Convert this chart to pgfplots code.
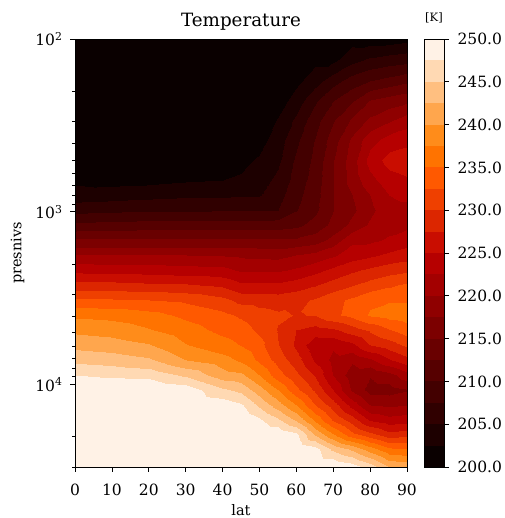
\documentclass[border=0pt]{standalone}
\usepackage{fontspec}
\setmainfont{DejaVu Serif}
\usepackage{pgfplots}
\usepackage{pgfplotstable}
\pgfplotsset{compat=1.18}
\pgfplotsset{
  colormap={gh}{rgb255=(10,0,0) rgb255=(29,0,0) rgb255=(48,0,0) rgb255=(67,0,0) rgb255=(86,0,0)
    rgb255=(105,0,0) rgb255=(124,0,0) rgb255=(143,0,0) rgb255=(163,0,0) rgb255=(182,0,0)
    rgb255=(201,13,0) rgb255=(220,38,0) rgb255=(239,64,0) rgb255=(255,89,0) rgb255=(255,115,0)
    rgb255=(255,140,26) rgb255=(255,166,77) rgb255=(255,191,128) rgb255=(255,217,179) rgb255=(255,242,230)}
}
\pgfplotstableread{
lo hi r g b
200 202.5 10 0 0
202.5 205 29 0 0
205 207.5 48 0 0
207.5 210 67 0 0
210 212.5 86 0 0
212.5 215 105 0 0
215 217.5 124 0 0
217.5 220 143 0 0
220 222.5 163 0 0
222.5 225 182 0 0
225 227.5 201 13 0
227.5 230 220 38 0
230 232.5 239 64 0
232.5 235 255 89 0
235 237.5 255 115 0
237.5 240 255 140 26
240 242.5 255 166 77
242.5 245 255 191 128
245 247.5 255 217 179
247.5 250 255 242 230
}\bandtable
\begin{document}
\begin{tikzpicture}[x=1pt,y=1pt]
\path[use as bounding box] (0,0) rectangle (504,518);
\begin{axis}[
  at={(75pt,51pt)}, anchor=south west, scale only axis, width=332pt, height=428pt,
  xmin=0, xmax=90, ymin=100, ymax=30000, ymode=log, y dir=reverse,
  xtick={0,10,20,30,40,50,60,70,80,90},
  ytick={100,1000,10000},
  yticklabels={10\textsuperscript{2},10\textsuperscript{3},10\textsuperscript{4}},
  minor ytick={200,300,400,500,600,700,800,900,2000,3000,4000,5000,6000,7000,8000,9000,20000,30000},
  tick align=outside, major tick length=5pt, minor tick length=3pt,
  xtick pos=bottom, ytick pos=left,
  tick style={black, line width=0.7pt},
  minor tick style={black, line width=0.5pt},
  axis line style={line width=0.8pt},
  tick label style={font=\fontsize{15.5}{17}\selectfont},
  xticklabel style={yshift=-8pt},
  yticklabel style={xshift=-4pt},
  /pgf/number format/assume math mode=true,
  xlabel={lat}, ylabel={presnivs},
  label style={font=\fontsize{14.5}{16}\selectfont},
  xlabel style={at={(0.5,0)}, anchor=north, yshift=-34pt},
  ylabel style={at={(0,0.5)}, anchor=south, yshift=47pt},
  title={Temperature}, title style={font=\fontsize{18.3}{20}\selectfont, yshift=-1pt},
  colormap name=gh, point meta min=200, point meta max=250,
  axis on top,
]
\addplot[contour filled={number=20}, mesh/rows=27, mesh/cols=15, mesh/ordering=y varies, point meta=explicit]
 table[x=lat,y=p,meta=T] {
lat p T
0 100 200
0 132.2 200
0 172.6 200
0 225.2 200
0 293.9 200
0 383.6 200.5
0 500.6 201
0 653.1 202
0 797.2 203.5
0 973.6 206.6
0 1188.8 210.6
0 1451 215.3
0 1772 220
0 2164 224.2
0 2642 228.4
0 3226 233.1
0 3938 237
0 4810 239.4
0 5872 241.7
0 7170 244.3
0 8754 247.5
0 10688 250
0 13050 250
0 15930 250
0 19450 250
0 23750 250
0 30000 250
10 100 200
10 132.2 200
10 172.6 200
10 225.2 200
10 293.9 200
10 383.6 200.5
10 500.6 201
10 653.1 201.6
10 797.2 203.8
10 973.6 206.9
10 1188.8 211
10 1451 215.3
10 1772 220
10 2164 224
10 2642 228.4
10 3226 232.8
10 3938 236.7
10 4810 238.9
10 5872 241.2
10 7170 243.8
10 8754 247
10 10688 250
10 13050 250
10 15930 250
10 19450 250
10 23750 250
10 30000 250
20 100 200
20 132.2 200
20 172.6 200
20 225.2 200
20 293.9 200
20 383.6 200.5
20 500.6 201
20 653.1 201.7
20 797.2 204.2
20 973.6 207.1
20 1188.8 211.1
20 1451 215.3
20 1772 220
20 2164 223.8
20 2642 228
20 3226 232.5
20 3938 235.9
20 4810 237.7
20 5872 240.2
20 7170 242.9
20 8754 246.7
20 10688 250
20 13050 250
20 15930 250
20 19450 250
20 23750 250
20 30000 250
30 100 200
30 132.2 200
30 172.6 200
30 225.2 200
30 293.9 200
30 383.6 200.5
30 500.6 201.2
30 653.1 202.2
30 797.2 204.5
30 973.6 207.1
30 1188.8 211.1
30 1451 215.3
30 1772 220
30 2164 223.5
30 2642 227.8
30 3226 232
30 3938 234.4
30 4810 236.1
30 5872 237.6
30 7170 240
30 8754 244.5
30 10688 249
30 13050 250
30 15930 250
30 19450 250
30 23750 250
30 30000 250
40 100 200
40 132.2 200
40 172.6 200
40 225.2 200
40 293.9 200
40 383.6 200.5
40 500.6 201.5
40 653.1 202.5
40 797.2 204.6
40 973.6 207.3
40 1188.8 211.1
40 1451 215.3
40 1772 219.8
40 2164 223.2
40 2642 227
40 3226 230.7
40 3938 233.1
40 4810 234.3
40 5872 236
40 7170 238.5
40 8754 241
40 10688 245.5
40 13050 249
40 15930 250
40 19450 250
40 23750 250
40 30000 250
45 100 200
45 132.2 200
45 172.6 200
45 225.2 200
45 293.9 200
45 383.6 201
45 500.6 201.9
45 653.1 202.8
45 797.2 204.7
45 973.6 207.3
45 1188.8 211.1
45 1451 215.3
45 1772 219.5
45 2164 222.1
45 2642 225.5
45 3226 229.2
45 3938 232.1
45 4810 233.6
45 5872 234.9
45 7170 237
45 8754 240.6
45 10688 244.3
45 13050 247.9
45 15930 250
45 19450 250
45 23750 250
45 30000 250
50 100 200
50 132.2 200
50 172.6 200
50 225.2 200
50 293.9 200.5
50 383.6 201.5
50 500.6 202.8
50 653.1 203.9
50 797.2 204.8
50 973.6 207.3
50 1188.8 211.1
50 1451 215.3
50 1772 219.4
50 2164 222.1
50 2642 225.5
50 3226 229
50 3938 231
50 4810 232
50 5872 233.4
50 7170 234.5
50 8754 237.5
50 10688 241.2
50 13050 244.5
50 15930 248
50 19450 250
50 23750 250
50 30000 250
55 100 200
55 132.2 200
55 172.6 200
55 225.2 201.2
55 293.9 202.7
55 383.6 203.8
55 500.6 204.5
55 653.1 205.6
55 797.2 206.5
55 973.6 207.5
55 1188.8 211.3
55 1451 215.3
55 1772 219.2
55 2164 222.1
55 2642 225.5
55 3226 228.8
55 3938 230.4
55 4810 229.8
55 5872 230.1
55 7170 231.5
55 8754 233.5
55 10688 237.5
55 13050 241.2
55 15930 245.5
55 19450 249.5
55 23750 250
55 30000 250
60 100 200
60 132.2 201
60 172.6 201.8
60 225.2 203.5
60 293.9 205.5
60 383.6 206.9
60 500.6 207.9
60 653.1 208.5
60 797.2 209.2
60 973.6 209.8
60 1188.8 211.8
60 1451 215.4
60 1772 220
60 2164 222.9
60 2642 226.2
60 3226 229.3
60 3938 229.9
60 4810 227.5
60 5872 227
60 7170 228.7
60 8754 230.6
60 10688 233.3
60 13050 237.5
60 15930 242.2
60 19450 248
60 23750 250
60 30000 250
65 100 201
65 132.2 201.9
65 172.6 203.7
65 225.2 207
65 293.9 209
65 383.6 210.1
65 500.6 210.6
65 653.1 211.1
65 797.2 211.5
65 973.6 211.9
65 1188.8 213.5
65 1451 216.2
65 1772 220.8
65 2164 224.2
65 2642 227.3
65 3226 230.3
65 3938 230.1
65 4810 226.4
65 5872 223.2
65 7170 224.6
65 8754 227.2
65 10688 229.5
65 13050 232.5
65 15930 237
65 19450 242
65 23750 248.5
65 30000 250
70 100 201
70 132.2 201.9
70 172.6 206.3
70 225.2 209.8
70 293.9 212.2
70 383.6 213.8
70 500.6 214.8
70 653.1 214.9
70 797.2 214.9
70 973.6 214.9
70 1188.8 215.7
70 1451 218.4
70 1772 222.1
70 2164 225.6
70 2642 228.6
70 3226 231.7
70 3938 232
70 4810 227
70 5872 223
70 7170 221.7
70 8754 222.4
70 10688 225
70 13050 228.8
70 15930 232.2
70 19450 237.5
70 23750 244.4
70 30000 250
75 100 201.5
75 132.2 204.2
75 172.6 208.5
75 225.2 212
75 293.9 215.4
75 383.6 218
75 500.6 218.8
75 653.1 218.5
75 797.2 217.5
75 973.6 216.9
75 1188.8 218.2
75 1451 222
75 1772 223.7
75 2164 227
75 2642 229.8
75 3226 233
75 3938 233.2
75 4810 228.8
75 5872 224.3
75 7170 220.5
75 8754 218.5
75 10688 219.6
75 13050 224
75 15930 228.8
75 19450 233.2
75 23750 242
75 30000 249
80 100 201.3
80 132.2 205.5
80 172.6 209.8
80 225.2 215
80 293.9 218
80 383.6 221.6
80 500.6 223.5
80 653.1 221.7
80 797.2 220
80 973.6 219.4
80 1188.8 220.4
80 1451 222
80 1772 224.5
80 2164 228
80 2642 231
80 3226 234.5
80 3938 235.3
80 4810 230.4
80 5872 227.5
80 7170 222
80 8754 217.7
80 10688 216.5
80 13050 220
80 15930 224.7
80 19450 230.7
80 23750 238.7
80 30000 246.5
85 100 201.2
85 132.2 206.2
85 172.6 210.7
85 225.2 216
85 293.9 219.6
85 383.6 223.5
85 500.6 226
85 653.1 224
85 797.2 222.5
85 973.6 221.5
85 1188.8 221.8
85 1451 222.8
85 1772 225.5
85 2164 229
85 2642 232
85 3226 234.8
85 3938 236
85 4810 232.3
85 5872 228.8
85 7170 224.7
85 8754 219
85 10688 216.5
85 13050 219.5
85 15930 223.5
85 19450 228.2
85 23750 235.5
85 30000 242.5
90 100 201.7
90 132.2 206.7
90 172.6 211.7
90 225.2 216.8
90 293.9 221.2
90 383.6 224.2
90 500.6 226.5
90 653.1 224.7
90 797.2 223.2
90 973.6 221.5
90 1188.8 222
90 1451 223.8
90 1772 226.2
90 2164 229.5
90 2642 233
90 3226 234.8
90 3938 236.5
90 4810 233.8
90 5872 230.5
90 7170 226.7
90 8754 221.5
90 10688 217.3
90 13050 220
90 15930 224
90 19450 228.8
90 23750 235
90 30000 242
};
\end{axis}
\begin{axis}[
  at={(424pt,51pt)}, anchor=south west, scale only axis, width=20pt, height=428pt,
  xmin=0, xmax=1, ymin=200, ymax=250, xtick=\empty,
  ytick={200,205,210,215,220,225,230,235,240,245,250},
  ytick pos=right, yticklabel pos=right,
  tick align=outside, major tick length=5pt,
  tick style={black, line width=0.7pt},
  axis line style={line width=0.8pt},
  tick label style={font=\fontsize{15.5}{17}\selectfont},
  yticklabel style={xshift=5pt},
  /pgf/number format/assume math mode=true,
  /pgf/number format/fixed, /pgf/number format/fixed zerofill, /pgf/number format/precision=1,
  axis on top,
]
\pgfplotstablegetrowsof{\bandtable}
\pgfmathtruncatemacro{\nb}{\pgfplotsretval-1}
\pgfplotsinvokeforeach{0,...,\nb}{
  \pgfplotstablegetelem{#1}{lo}\of\bandtable \edef\lo{\pgfplotsretval}
  \pgfplotstablegetelem{#1}{hi}\of\bandtable \edef\hi{\pgfplotsretval}
  \pgfplotstablegetelem{#1}{r}\of\bandtable \edef\cr{\pgfplotsretval}
  \pgfplotstablegetelem{#1}{g}\of\bandtable \edef\cg{\pgfplotsretval}
  \pgfplotstablegetelem{#1}{b}\of\bandtable \edef\cb{\pgfplotsretval}
  \definecolor{bc#1}{RGB}{\cr,\cg,\cb}
  \edef\temp{\noexpand\addplot[draw=none, fill=bc#1, forget plot] coordinates {(0,\lo) (1,\lo) (1,\hi) (0,\hi)} -- cycle;}
  \temp
}
\end{axis}
\node[font=\fontsize{11.5}{12}\selectfont] at (434,500) {[K]};
\end{tikzpicture}
\end{document}
